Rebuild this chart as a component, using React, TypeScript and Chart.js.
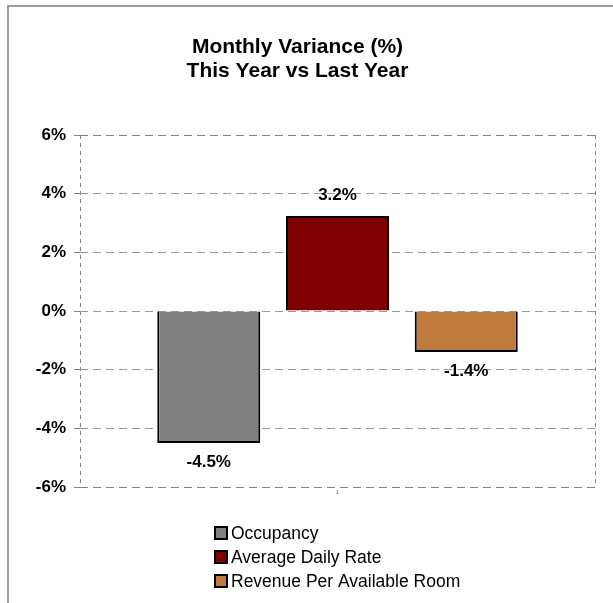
import React, { useEffect, useRef } from "react";
import { Chart, registerables } from "chart.js";

Chart.register(...registerables);

const categories = ["1"];
const seriesNames = ["Occupancy", "Average Daily Rate", "Revenue Per Available Room"];
const occupancy = [-4.5];
const averageDailyRate = [3.24];
const revPar = [-1.4];
const seriesColors = ["#808080", "#800000", "#BF7A3C"];
const yTicks = [-6, -4, -2, 0, 2, 4, 6];
const titleLines = ["Monthly Variance (%)", "This Year vs Last Year"];

const FONT = "'Liberation Sans', Arial, sans-serif";

const framePlugin = {
  id: "frame",
  beforeDraw(chart: any) {
    const ctx = chart.ctx;
    ctx.save();
    ctx.fillStyle = "#ffffff";
    ctx.fillRect(0, 0, chart.width, chart.height);
    ctx.fillStyle = "#9c9c9c";
    ctx.fillRect(7, 5, 2, chart.height - 5);
    ctx.fillRect(7, 5, chart.width - 7, 2);
    ctx.restore();
  },
};

const valueLabelPlugin = {
  id: "valueLabels",
  afterDatasetsDraw(chart: any) {
    const ctx = chart.ctx;
    ctx.save();
    ctx.font = `bold 17px ${FONT}`;
    ctx.fillStyle = "#000000";
    ctx.textAlign = "center";
    ctx.textBaseline = "middle";
    chart.data.datasets.forEach((ds: any, i: number) => {
      const meta = chart.getDatasetMeta(i);
      meta.data.forEach((bar: any, j: number) => {
        const v = ds.data[j] as number;
        const y = v >= 0 ? bar.y - 21 : bar.y + 19;
        ctx.fillText(v.toFixed(1) + "%", bar.x, y);
      });
    });
    ctx.restore();
  },
};

const customLegendPlugin = {
  id: "customLegend",
  afterDraw(chart: any) {
    const ctx = chart.ctx;
    const x0 = 215;
    const y0 = chart.chartArea.bottom + 46;
    const rowH = 24;
    ctx.save();
    ctx.font = `17.5px ${FONT}`;
    ctx.textBaseline = "middle";
    ctx.textAlign = "left";
    chart.data.datasets.forEach((ds: any, i: number) => {
      const cy = y0 + i * rowH;
      ctx.fillStyle = ds.backgroundColor;
      ctx.fillRect(x0, cy - 6, 12, 12);
      ctx.lineWidth = 2;
      ctx.strokeStyle = "#000000";
      ctx.strokeRect(x0, cy - 6, 12, 12);
      ctx.fillStyle = "#000000";
      ctx.fillText(ds.label, x0 + 16, cy + 1);
    });
    ctx.restore();
  },
};

export default function App() {
  const canvasRef = useRef<HTMLCanvasElement | null>(null);

  useEffect(() => {
    document.body.style.margin = "0";
    document.body.style.overflow = "hidden";
    const canvas = canvasRef.current;
    if (!canvas) return;
    const values = [occupancy, averageDailyRate, revPar];
    const chart = new Chart(canvas, {
      type: "bar",
      data: {
        labels: categories,
        datasets: seriesNames.map((name, i) => ({
          label: name,
          data: values[i],
          backgroundColor: seriesColors[i],
          borderColor: "#000000",
          borderWidth: 2,
          categoryPercentage: 0.75,
          barPercentage: 0.8,
        })),
      },
      options: {
        responsive: false,
        animation: false,
        devicePixelRatio: 1,
        layout: { padding: { left: 0, right: 18, top: 0, bottom: 100 } },
        plugins: {
          legend: { display: false },
          tooltip: { enabled: false },
          title: {
            display: true,
            text: titleLines,
            color: "#000000",
            font: { family: FONT, size: 21, weight: "bold", lineHeight: 24 / 21 },
            padding: { top: 35, bottom: 52 },
          },
        },
        scales: {
          x: {
            grid: {
              display: true,
              drawOnChartArea: true,
              drawTicks: false,
              color: "#808080",
              lineWidth: 1,
              offset: true,
            },
            border: { display: false, dash: [4, 4] },
            ticks: {
              color: "#555555",
              font: { family: FONT, size: 5 },
              padding: 3,
            },
            afterFit: (s: any) => {
              s.height = 16;
            },
          },
          y: {
            min: -6,
            max: 6,
            afterBuildTicks: (s: any) => {
              s.ticks = yTicks.map((v) => ({ value: v }));
            },
            grid: {
              color: (c: any) =>
                c.tick && (c.tick.value === 6 || c.tick.value === -6) ? "#808080" : "#999999",
              lineWidth: 1,
              drawTicks: true,
              tickLength: 6,
              tickColor: "#808080",
            },
            border: { display: false, dash: [8, 5] },
            ticks: {
              color: "#000000",
              font: { family: FONT, size: 17, weight: "bold" },
              padding: 8,
              callback: (v: any) => `${v}%`,
            },
            afterFit: (s: any) => {
              s.width = 80;
            },
          },
        },
      },
      plugins: [framePlugin, valueLabelPlugin, customLegendPlugin],
    });
    return () => chart.destroy();
  }, []);

  return (
    <div style={{ width: 613, height: 603 }}>
      <canvas ref={canvasRef} width={613} height={603} style={{ display: "block" }} />
    </div>
  );
}
